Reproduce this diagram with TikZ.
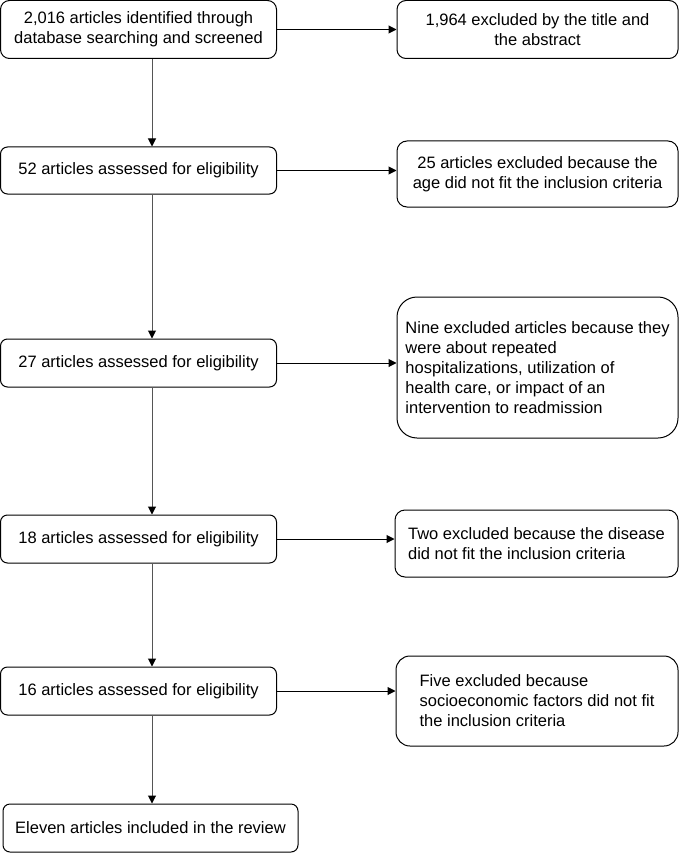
\documentclass[tikz,border=0pt]{standalone}
\usepackage{fontspec}
\setmainfont{Liberation Sans}
\usetikzlibrary{arrows.meta}
\begin{document}
\begin{tikzpicture}[x=1pt,y=-1pt,
  box/.style={draw,line width=1pt,rounded corners=7pt,inner sep=0pt,
    font=\fontsize{16.5}{20}\selectfont,align=center,
    minimum width=276pt,minimum height=48pt},
  side/.style={box,align=left,minimum width=281pt},
  feed/.style={-{Triangle[length=8pt,width=8pt]},line width=1pt},
  down/.style={feed,draw=linkgrey,arrows={-{Triangle[length=8pt,width=8pt,color=black]}}}]
  \definecolor{linkgrey}{HTML}{555555}
  \useasboundingbox (0,0) rectangle (680,853);
  \coordinate (spine) at (152,0);
  \node [box,minimum height=58pt,rounded corners=9pt] (n1) at (138.5,29.5)
   {2,016 articles identified through\\database searching and screened};
  \node [box,minimum height=47pt] (n2) at (138.5,170.5) {52 articles assessed for eligibility};
  \node [box] (n3) at (138.5,363) {27 articles assessed for eligibility};
  \node [box] (n4) at (138.5,539) {18 articles assessed for eligibility};
  \node [box] (n5) at (138.5,691) {16 articles assessed for eligibility};
  \node [box,minimum width=295pt] (n6) at (150.5,828) {Eleven articles included in the review};
  \node [box,minimum width=281pt,minimum height=58pt,rounded corners=9pt] (x1) at (537.5,29.5)
   {1,964 excluded by the title and\\the abstract};
  \node [box,minimum width=281pt,minimum height=66pt,rounded corners=10pt] (x2) at (537.5,174)
   {25 articles excluded because the\\age did not fit the inclusion criteria};
  \node [side,minimum height=141pt,rounded corners=20pt] (x3) at (537.5,367.5)
   {Nine excluded articles because they\\were about repeated\\hospitalizations, utilization of\\health care, or impact of an\\intervention to readmission};
  \node [side,minimum width=283pt,minimum height=67pt,rounded corners=10pt] (x4) at (536.5,543.5)
   {Two excluded because the disease\\did not fit the inclusion criteria};
  \node [side,minimum width=282pt,minimum height=90pt,rounded corners=14pt] (x5) at (537,701)
   {Five excluded because\\socioeconomic factors did not fit\\the inclusion criteria};
  \draw [down] (n1.south -| spine) -- (n2.north -| spine);
  \draw [down] (n2.south -| spine) -- (n3.north -| spine);
  \draw [down] (n3.south -| spine) -- (n4.north -| spine);
  \draw [down] (n4.south -| spine) -- (n5.north -| spine);
  \draw [down] (n5.south -| spine) -- (n6.north -| spine);
  \draw [feed] (n1.east) -- (n1.east -| x1.west);
  \draw [feed] (n2.east) -- (n2.east -| x2.west);
  \draw [feed] (n3.east) -- (n3.east -| x3.west);
  \draw [feed] (n4.east) -- (n4.east -| x4.west);
  \draw [feed] (n5.east) -- (n5.east -| x5.west);
\end{tikzpicture}
\end{document}
